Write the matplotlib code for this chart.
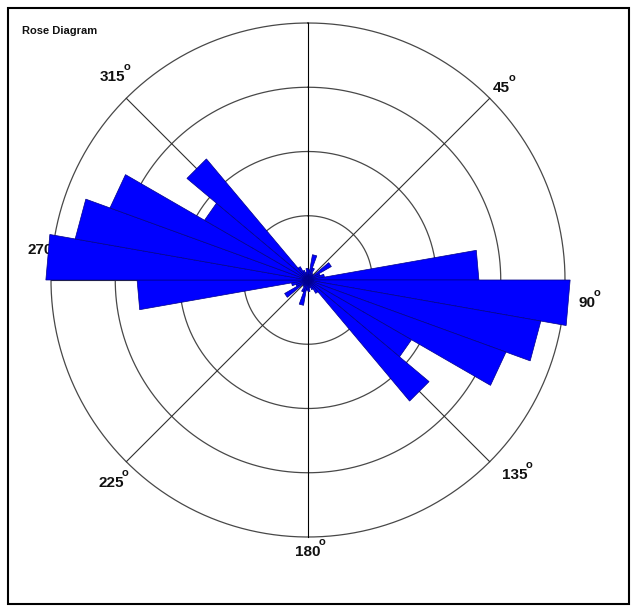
import numpy as np
import matplotlib.pyplot as plt
from matplotlib.patches import Rectangle

# ------------------------------------------------------------
# Datos (clases de 10 grados, azimut)
# ------------------------------------------------------------
bin_start = list(range(0, 360, 10))
bin_width = 10
counts = [
    0.8, 2.0, 1.0, 0.6, 0.5, 2.1, 1.0, 1.3, 13.3,       # 0 - 80
    20.4, 18.4, 16.4, 9.3, 12.3, 1.2, 0.8, 0.6, 0.9,    # 90 - 170
    0.8, 2.0, 1.0, 0.6, 0.5, 2.1, 1.0, 1.3, 13.3,       # 180 - 260
    20.4, 18.4, 16.4, 9.3, 12.3, 1.2, 0.8, 0.6, 0.9,    # 270 - 350
]
ring_values = [5, 10, 15, 20]
spoke_angles = [0, 45, 90, 135, 180, 225, 270, 315]
label_text = ["45", "90", "135", "180", "225", "270", "315"]

# posicion de cada etiqueta (theta en grados, radio)
label_pos = [(45.3, 21.2), (94.8, 21.8), (133.3, 22.1), (180.0, 21.2),
             (224.1, 22.0), (276.4, 21.0), (316.1, 21.9)]

W, H = 637, 612
fig = plt.figure(figsize=(W / 100, H / 100), dpi=100)

# centro en (308, 280) px, anillo exterior (20) con radio 257 px
rmax = 21.0
rad_px = 257 * rmax / 20
ax = fig.add_axes([(308 - rad_px) / W, (H - 280 - rad_px) / H,
                   2 * rad_px / W, 2 * rad_px / H], projection="polar")
ax.set_theta_zero_location("N")
ax.set_theta_direction(-1)
ax.set_ylim(0, rmax)
ax.axis("off")

# anillos y radios
t = np.linspace(0, 2 * np.pi, 400)
for rv in ring_values:
    ax.plot(t, np.full_like(t, rv), color="#484848", lw=0.9, zorder=1)
for a in spoke_angles:
    c = "black" if a % 180 == 0 else "#303030"
    ax.plot([np.radians(a)] * 2, [0, ring_values[-1]], color=c, lw=0.8, zorder=1)

# etiquetas (debajo de las barras, como en el original)
fnt = dict(family="Liberation Sans", fontweight="bold", color="#111111")
for txt, (th, r) in zip(label_text, label_pos):
    ax.text(np.radians(th), r, txt, fontsize=11, ha="center", va="center",
            zorder=2, clip_on=False, **fnt)
    ax.annotate("o", xy=(np.radians(th), r),
                xytext=(0.72 * (4.0 * len(txt) + 2), 0.72 * 10),
                textcoords="offset points", fontsize=8, ha="center",
                va="center", zorder=2, annotation_clip=False, **fnt)

# barras como cunas de lados rectos
for b, c in zip(bin_start, counts):
    t1, t2 = np.radians(b), np.radians(b + bin_width)
    ax.fill([t1, t1, t2], [0, c, c], facecolor="#0000ff",
            edgecolor="#00008b", lw=0.5, zorder=3, clip_on=False)

fig.text(22 / W, 1 - 31 / H, "Rose Diagram", fontsize=8, fontweight="bold",
         family="Liberation Sans", color="#111111", va="center", ha="left")

fig.add_artist(Rectangle((8 / W, (H - 604) / H), (629 - 8) / W, (604 - 8) / H,
                         transform=fig.transFigure, fill=False,
                         lw=1.5, ec="black"))

fig.savefig("out.png", dpi=100, facecolor="white")
